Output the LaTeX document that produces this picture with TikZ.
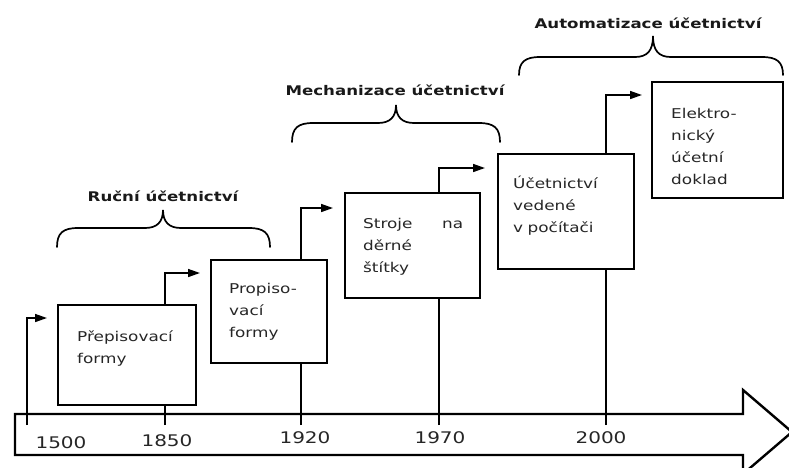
\documentclass[tikz,border=0pt]{standalone}
\usepackage{fontspec}
\setmainfont[FakeStretch=1.25]{DejaVu Sans}
\usetikzlibrary{arrows.meta}
\newcommand{\mybrace}[6]{%
  \draw[brc] (#1,#3) .. controls (#1,{#4+5}) and ({#1+6},#4) .. ({#1+21},#4)
    -- ({#6-18},#4) .. controls ({#6-6},#4) and (#6,{#4-6}) .. (#6,#5)
    .. controls (#6,{#4-6}) and ({#6+6},#4) .. ({#6+18},#4)
    -- ({#2-21},#4) .. controls ({#2-6},#4) and (#2,{#4+5}) .. (#2,#3);}
\begin{document}
\begin{tikzpicture}[x=1pt,y=-1pt,
  box/.style={draw, line width=1.8pt, inner sep=0pt},
  btext/.style={anchor=north west, inner sep=0pt, text width=118pt, align=left,
    font=\fontsize{13.5}{22}\selectfont, text=black!85},
  year/.style={anchor=base, inner sep=0pt, font=\fontsize{16}{18}\selectfont, text=black!85},
  title/.style={anchor=base, inner sep=0pt, font=\fontsize{13.3}{16}\selectfont\bfseries, text=black!90},
  conn/.style={line width=1.5pt},
  arr/.style={line width=1.5pt, -{Triangle[length=12pt,width=8pt]}},
  brc/.style={line width=1.7pt, line cap=round}]
\useasboundingbox (0,0) rectangle (789,467);
\clip (0,0) rectangle (789,467);

% big time arrow
\draw[line width=2.4pt, line join=miter] (15,414) -- (743,414) -- (743,390) -- (792,432)
  -- (743,474) -- (743,455) -- (15,455) -- cycle;

% boxes
\node[box, minimum width=138pt, minimum height=100pt] (b1) at (127,355) {};
\node[box, minimum width=116pt, minimum height=103pt] (b2) at (269,311.5) {};
\node[box, minimum width=135pt, minimum height=105pt] (b3) at (412.5,245.5) {};
\node[box, minimum width=136pt, minimum height=115pt] (b4) at (566,211.5) {};
\node[box, minimum width=131pt, minimum height=116pt] (b5) at (717.5,140) {};

% box texts
\node[btext] (t1) at (77,327) {\rule{0pt}{14pt}Přepisovací\\formy};
\node[btext] (t2) at (229,279) {\rule{0pt}{14pt}Propiso-\\vací\\formy};
\node[btext] (t3) at (363,214) {\rule{0pt}{14pt}\makebox[100pt][l]{Stroje\hfill na}\\děrné\\štítky};
\node[btext] (t4) at (513,174) {\rule{0pt}{14pt}Účetnictví\\vedené\\v počítači};
\node[btext] (t5) at (671,104) {\rule{0pt}{14pt}Elektro-\\nický\\účetní\\doklad};

% connectors
\coordinate (p0) at (27,425); \coordinate (q0) at (27,318); \coordinate (r0) at (47,318);
\draw[arr] (p0) -- (q0) -- (r0);

\coordinate (p1) at (165,425); \coordinate (q1) at (165,273); \coordinate (r1) at (200,273);
\draw[conn] (p1) -- (p1 |- b1.south);
\draw[arr] (p1 |- b1.north) -- (q1) -- (r1);

\coordinate (p2) at (301,425); \coordinate (q2) at (301,208); \coordinate (r2) at (333,208);
\draw[conn] (p2) -- (p2 |- b2.south);
\draw[arr] (p2 |- b2.north) -- (q2) -- (r2);

\coordinate (p3) at (439,425); \coordinate (q3) at (439,168); \coordinate (r3) at (485,168);
\draw[conn] (p3) -- (p3 |- b3.south);
\draw[arr] (p3 |- b3.north) -- (q3) -- (r3);

\coordinate (p4) at (606,425); \coordinate (q4) at (606,95); \coordinate (r4) at (642,95);
\draw[conn] (p4) -- (p4 |- b4.south);
\draw[arr] (p4 |- b4.north) -- (q4) -- (r4);

% years
\node[year] (y0) at (61,448) {1500};
\node[year] (y1) at (167,446) {1850};
\node[year] (y2) at (305,443) {1920};
\node[year] (y3) at (440,443) {1970};
\node[year] (y4) at (601,443) {2000};

% braces and titles
\mybrace{57}{270}{247}{228}{210}{163}
\mybrace{292}{500}{142}{123}{105}{396}
\mybrace{519}{783}{75}{57}{36}{653}
\node[title] (h1) at (163,201) {Ruční účetnictví};
\node[title] (h2) at (395,95) {Mechanizace účetnictví};
\node[title] (h3) at (648,28) {Automatizace účetnictví};
\end{tikzpicture}
\end{document}
